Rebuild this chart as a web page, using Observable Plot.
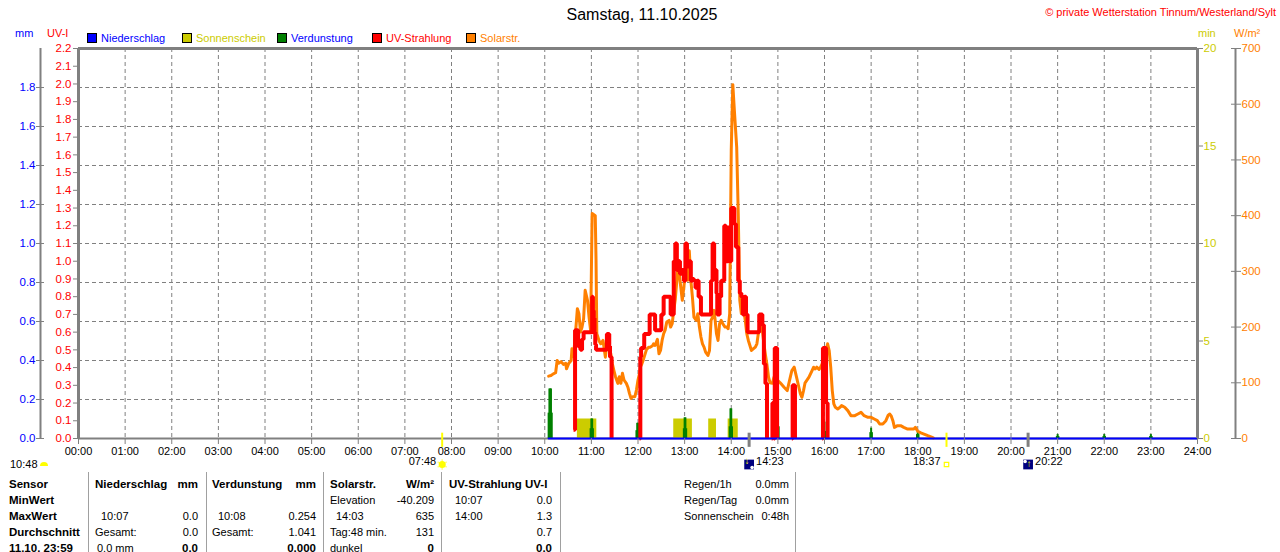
<!DOCTYPE html>
<html><head><meta charset="utf-8">
<script src="https://cdn.jsdelivr.net/npm/d3@7"></script>
<script src="https://cdn.jsdelivr.net/npm/@observablehq/plot@0.6"></script>
<style>
html,body{margin:0;padding:0;background:#fff;}
#wrap{position:relative;width:1280px;height:552px;overflow:hidden;font-family:"Liberation Sans",Arial,sans-serif;font-size:11px;color:#000;}
#wrap svg{position:absolute;left:0;top:0;}
.t{position:absolute;white-space:nowrap;line-height:12px;height:12px;}
.b{font-weight:bold;font-size:11.5px;}
.sq{position:absolute;width:8px;height:8px;border:1px solid #000;}
.sep{position:absolute;width:1px;background:#a0a0a0;top:472px;height:80px;}
</style></head><body><div id="wrap"></div>
<script>
// ---------- data ----------
const hourTicks = [0,1,2,3,4,5,6,7,8,9,10,11,12,13,14,15,16,17,18,19,20,21,22,23,24];
const hourLabels = ["00:00","01:00","02:00","03:00","04:00","05:00","06:00","07:00","08:00","09:00","10:00","11:00","12:00","13:00","14:00","15:00","16:00","17:00","18:00","19:00","20:00","21:00","22:00","23:00","24:00"];
const uvTicks = [0,0.1,0.2,0.3,0.4,0.5,0.6,0.7,0.8,0.9,1.0,1.1,1.2,1.3,1.4,1.5,1.6,1.7,1.8,1.9,2.0,2.1,2.2];
const uvTickLabels = ["0.0","0.1","0.2","0.3","0.4","0.5","0.6","0.7","0.8","0.9","1.0","1.1","1.2","1.3","1.4","1.5","1.6","1.7","1.8","1.9","2.0","2.1","2.2"];
const mmTicks = [0,0.2,0.4,0.6,0.8,1.0,1.2,1.4,1.6,1.8];
const mmTickLabels = ["0.0","0.2","0.4","0.6","0.8","1.0","1.2","1.4","1.6","1.8"];
const mmMax = 2.0;
const minTicks = [0,5,10,15,20];
const minTickLabels = ["0","5","10","15","20"];
const minMax = 20;
const wTicks = [0,100,200,300,400,500,600,700];
const wTickLabels = ["0","100","200","300","400","500","600","700"];
const wMax = 700;
const uvMax = 2.2;

const solarTime = ["10:05","10:08","10:11","10:14","10:16","10:18","10:21","10:24","10:27","10:28","10:31","10:34","10:35","10:37","10:40","10:42","10:44","10:46","10:48","10:50","10:52","10:55","10:57","10:59","11:01","11:05","11:06","11:07","11:10","11:12","11:15","11:18","11:20","11:22","11:25","11:27","11:29","11:31","11:34","11:36","11:38","11:40","11:42","11:45","11:47","11:49","11:51","11:53","11:56","11:58","12:00","12:02","12:03","12:05","12:07","12:11","12:14","12:16","12:19","12:20","12:22","12:25","12:27","12:29","12:31","12:33","12:35","12:37","12:40","12:42","12:44","12:46","12:48","12:50","12:52","12:54","12:57","12:59","13:01","13:04","13:06","13:08","13:10","13:12","13:15","13:17","13:19","13:21","13:23","13:25","13:27","13:30","13:32","13:34","13:36","13:38","13:41","13:43","13:45","13:47","13:49","13:52","13:54","13:56","13:58","14:00","14:02","14:04","14:07","14:09","14:11","14:13","14:15","14:18","14:20","14:22","14:26","14:31","14:33","14:35","14:38","14:40","14:42","14:44","14:46","14:48","14:50","14:53","14:55","14:58","15:00","15:03","15:08","15:12","15:16","15:18","15:21","15:24","15:27","15:29","15:31","15:33","15:35","15:37","15:40","15:42","15:44","15:46","15:48","15:50","15:53","15:55","15:57","15:59","16:01","16:03","16:04","16:06","16:08","16:10","16:12","16:14","16:17","16:20","16:22","16:26","16:30","16:34","16:39","16:43","16:47","16:51","16:56","17:00","17:04","17:08","17:11","17:15","17:19","17:22","17:24","17:26","17:28","17:30","17:34","17:38","17:42","17:47","17:51","17:55","17:57","18:00","18:04","18:08","18:13","18:17","18:20"];
const solarValue = [112,113,116,118,140,135,138,133,135,125,135,140,161,147,197,233,224,191,200,215,266,248,218,194,404,400,320,188,175,170,176,146,170,163,152,134,122,111,99,111,99,117,105,99,92,81,72,75,75,87,105,117,128,134,142,160,164,164,167,170,167,178,152,158,176,188,195,209,212,200,206,230,250,284,320,284,248,272,296,284,337,284,254,218,212,224,200,182,170,164,155,149,158,212,218,230,188,176,206,212,206,200,200,197,224,517,635,589,523,404,248,224,240,212,188,176,158,164,170,190,204,194,170,150,132,110,100,99,110,108,104,100,92,86,110,122,128,110,92,80,74,86,100,104,110,116,122,128,125,128,124,128,134,146,122,164,170,158,128,86,62,56,53,56,59,56,50,41,41,44,47,41,38,38,35,32,26,26,32,42,44,40,32,20,23,23,20,17,17,17,20,13,10,8,5,3,1];

const uvTime = ["10:37","10:39","10:41","10:42","10:43","10:45","10:46","10:48","10:50","11:01","11:02","11:03","11:04","11:05","11:06","11:20","11:23","11:24","11:26","11:27","12:02","12:03","12:04","12:08","12:15","12:22","12:30","12:33","12:42","12:46","12:48","12:50","12:52","12:54","12:56","12:59","13:01","13:03","13:05","13:08","13:10","13:12","13:14","13:16","13:18","13:21","13:34","13:36","13:38","13:41","13:42","13:45","13:47","13:51","13:53","13:56","13:58","14:00","14:04","14:06","14:09","14:11","14:13","14:15","14:17","14:19","14:21","14:36","14:40","14:42","14:44","14:46","14:47","14:52","14:53","14:55","14:56","14:59","15:00","15:18","15:19","15:22","15:23","15:57","15:58","16:02","16:04","16:05"];
const uvValue = [0.05,0.61,0.55,0.61,0.52,0.55,0.50,0.56,0.60,0.80,0.72,0.68,0.60,0.53,0.50,0.59,0.52,0.46,0,null,0,0.46,0.51,0.59,0.70,0.61,0.70,0.80,0.70,1.00,1.10,0.95,1.00,0.93,0.95,0.89,1.10,0.97,1.00,0.89,0.90,0.89,0.85,0.89,0.80,0.70,0.89,1.10,0.95,0.82,0.70,0.80,0.89,1.20,1.00,1.19,1.00,1.30,1.21,1.08,0.89,0.82,0.80,0.70,0.80,0.70,0.60,0.70,0.64,0.42,0.31,0,null,0,0.20,0,0.51,0,null,0,0.30,0,null,0,0.51,0.20,0,null];

const evapTime = ["10:05","10:06","10:07","10:08","10:09","10:59","11:00","11:01","11:02","11:58","11:59","12:00","12:01","12:59","13:00","13:01","13:02","13:58","13:59","14:00","14:01","14:58","14:59","15:00","15:01","15:58","15:59","16:00","16:01","16:59","17:00","17:01","17:59","18:00","18:01","20:59","21:00","21:01","21:59","22:00","22:01","22:59","23:00","23:01"];
const evapValue = [0.13,0.254,0.254,0.254,0.13,0.05,0.10,0.10,0.05,0.04,0.078,0.078,0.04,0.05,0.106,0.106,0.05,0.06,0.152,0.152,0.06,0.06,0.13,0.13,0.06,0.036,0.084,0.084,0.036,0.03,0.053,0.03,0.02,0.032,0.02,0.01,0.02,0.01,0.01,0.02,0.01,0.01,0.02,0.01];

const sunStart = ["10:42","12:46","13:31","13:56"];
const sunEnd = ["11:07","13:10","13:41","14:09"];
const sunValue = [1,1,1,1];

const rainTime = ["10:05","11:00","12:00","13:00","14:00","15:00","16:00","17:00","18:00","19:00","20:00","21:00","22:00","23:00","24:00"];
const rainValue = [0,0,0,0,0,0,0,0,0,0,0,0,0,0,0];

const sunrise = "07:48", sunset = "18:37", moonset = "14:23", moonrise = "20:22", dayLength = "10:48";

const tableRowLabels = ["Sensor","MinWert","MaxWert","Durchschnitt","11.10. 23:59"];
const rainLabels = ["Niederschlag","","10:07","Gesamt:","0.0 mm"];
const rainVals = ["mm","","0.0","0.0","0.0"];
const evapLabels = ["Verdunstung","","10:08","Gesamt:",""];
const evapVals = ["mm","","0.254","1.041","0.000"];
const solarLabels = ["Solarstr.","Elevation","14:03","Tag:48 min.","dunkel"];
const solarVals = ["W/m²","-40.209","635","131","0"];
const uvLabels = ["UV-Strahlung UV-I","10:07","14:00","",""];
const uvVals = ["","0.0","1.3","0.7","0.0"];
const sumLabels = ["Regen/1h","Regen/Tag","Sonnenschein"];
const sumVals = ["0.0mm","0.0mm","0:48h"];

const legendNames = ["Niederschlag","Sonnenschein","Verdunstung","UV-Strahlung","Solarstr."];

// ---------- helpers ----------
const C = {grid:"#808080", blue:"#0000ff", red:"#ff0000", orange:"#ff8000", green:"#008000", olive:"#cccc00", yellow:"#ffff00"};
const toH = s => { const [h,m] = s.split(":").map(Number); return h + m/60; };
const kMM = uvMax/mmMax, kW = uvMax/wMax, kMin = uvMax/minMax;

const solar = solarTime.map((t,i)=>({x:toH(t), y:solarValue[i]*kW}));
const uv = uvTime.map((t,i)=>({x:toH(t), y:uvValue[i]==null?NaN:uvValue[i]}));
const evap = evapTime.map((t,i)=>({x:toH(t), y:evapValue[i]*kMM}));
const sun = sunStart.map((t,i)=>({x1:toH(t), x2:toH(sunEnd[i]), y:sunValue[i]*kMin}));
const rain = rainTime.map((t,i)=>({x:toH(t), y:rainValue[i]*kMM}));

const uvLab = new Map(uvTicks.map((d,i)=>[d,uvTickLabels[i]]));
const mmS = mmTicks.map(d=>d*kMM); const mmLab = new Map(mmS.map((d,i)=>[d,mmTickLabels[i]]));
const minS = minTicks.map(d=>d*kMin); const minLab = new Map(minS.map((d,i)=>[d,minTickLabels[i]]));
const wS = wTicks.map(d=>d*kW); const wLab = new Map(wS.map((d,i)=>[d,wTickLabels[i]]));

const chart = Plot.plot({
  width: 1280, height: 472,
  marginLeft: 78, marginRight: 83, marginTop: 48, marginBottom: 34,
  x: {domain:[0,24], axis:null},
  y: {domain:[0,uvMax], axis:null},
  style: {fontFamily:"Liberation Sans, Arial, sans-serif", fontSize:"11px", overflow:"visible", background:"#fff"},
  marks: [
    Plot.ruleX(hourTicks.filter(h=>h>0&&h<24), {stroke:C.grid, strokeDasharray:"4,3", strokeWidth:1}),
    Plot.ruleY(mmS.filter(d=>d>0), {stroke:C.grid, strokeDasharray:"4,3", strokeWidth:1}),
    Plot.ruleY([0], {stroke:C.grid, strokeWidth:2}),
    Plot.rectY(sun, {x1:"x1", x2:"x2", y1:0, y2:"y", fill:C.olive}),
    Plot.ruleX(evap, {x:"x", y1:0, y2:"y", stroke:C.green, strokeWidth:2}),
    Plot.line(solar, {x:"x", y:"y", stroke:C.orange, strokeWidth:3}),
    Plot.line(uv, {x:"x", y:"y", stroke:C.red, strokeWidth:4, curve:"step-after", strokeLinejoin:"miter", strokeLinecap:"butt"}),
    Plot.line(rain, {x:"x", y:"y", stroke:C.blue, strokeWidth:2}),
    // frame
    Plot.ruleY([uvMax], {stroke:C.grid, strokeWidth:3}),
    Plot.ruleX([0,24], {stroke:C.grid, strokeWidth:3}),
    // axes
    Plot.axisY(uvTicks, {anchor:"left", tickSize:5, tickPadding:2, stroke:C.grid, fill:C.red, label:null, tickFormat:d=>uvLab.get(d), fontSize:11.5}),
    Plot.ruleX([0], {dx:-38, stroke:C.grid, strokeWidth:2}),
    Plot.axisY(mmS, {anchor:"left", dx:-34, tickSize:8, tickPadding:1, stroke:C.grid, fill:C.blue, label:null, tickFormat:d=>mmLab.get(d), fontSize:11.5}),
    Plot.axisY(minS, {anchor:"right", tickSize:5, tickPadding:1, stroke:C.grid, fill:C.olive, label:null, tickFormat:d=>minLab.get(d), fontSize:11.5}),
    Plot.ruleX([24], {dx:38, stroke:C.grid, strokeWidth:2}),
    Plot.axisY(wS, {anchor:"right", dx:33, tickSize:10, tickPadding:1, stroke:C.grid, fill:C.orange, label:null, tickFormat:d=>wLab.get(d), fontSize:11.5}),
    Plot.axisX(hourTicks, {anchor:"bottom", tickSize:6, tickPadding:3, stroke:C.grid, fill:"#000", label:null, tickFormat:h=>hourLabels[h], fontSize:11}),
    // astronomical markers
    Plot.ruleX([sunrise, sunset], {x:toH, y1:-0.05, y2:0.03, stroke:C.yellow, strokeWidth:2}),
    Plot.ruleX([moonset, moonrise], {x:toH, y1:-0.05, y2:0.03, stroke:C.grid, strokeWidth:3}),
    Plot.text([sunrise, sunset], {x:toH, text:d=>d, frameAnchor:"bottom", dy:26, dx:-6, textAnchor:"end", fill:"#000", fontSize:11}),
    Plot.text([moonset, moonrise], {x:toH, text:d=>d, frameAnchor:"bottom", dy:26, dx:7, textAnchor:"start", fill:"#000", fontSize:11}),
    Plot.dot([sunrise], {x:toH, frameAnchor:"bottom", dy:26, r:5, symbol:"asterisk", stroke:"#ffff80", strokeWidth:1.5}),
    Plot.dot([sunrise], {x:toH, frameAnchor:"bottom", dy:26, r:3.5, fill:C.yellow}),
    Plot.dot([sunset], {x:toH, frameAnchor:"bottom", dy:26, r:2.5, symbol:"square", stroke:C.yellow, fill:"#fff", strokeWidth:1.2}),
    Plot.dot([moonset, moonrise], {x:toH, frameAnchor:"bottom", dy:26, r:5.5, symbol:"square", fill:"#000080"}),
    Plot.dot([moonset], {x:toH, frameAnchor:"bottom", dy:29, dx:3, r:1.8, fill:"#fff"}),
    Plot.dot([moonrise], {x:toH, frameAnchor:"bottom", dy:23, dx:-3, r:1.8, fill:"#fff"}),
    Plot.text([moonset], {x:toH, text:()=>"↓", frameAnchor:"bottom", dy:25, dx:-2, fill:C.yellow, fontSize:10, fontWeight:"bold"}),
    Plot.text([moonrise], {x:toH, text:()=>"↑", frameAnchor:"bottom", dy:28, dx:1, fill:C.yellow, fontSize:10, fontWeight:"bold"})
  ]
});

const wrap = document.getElementById("wrap");
wrap.appendChild(chart);

function txt(x, y, s, {align="left", color="#000", bold=false, size=null} = {}) {
  if (s === "" || s == null) return;
  const d = document.createElement("div");
  d.className = "t" + (bold ? " b" : "");
  d.textContent = s;
  d.style.top = (y - 6) + "px";
  if (align === "right") d.style.right = (1280 - x) + "px";
  else if (align === "center") { d.style.left = (x - 300) + "px"; d.style.width = "600px"; d.style.textAlign = "center"; }
  else d.style.left = x + "px";
  d.style.color = color;
  if (size) { d.style.fontSize = size + "px"; d.style.lineHeight = (size+2) + "px"; d.style.height = (size+2)+"px"; d.style.top = (y - (size+2)/2) + "px"; }
  wrap.appendChild(d);
}
function square(x, y, fill) {
  const d = document.createElement("div"); d.className = "sq";
  d.style.left = x + "px"; d.style.top = y + "px"; d.style.background = fill; wrap.appendChild(d);
}
function sep(x) { const d = document.createElement("div"); d.className = "sep"; d.style.left = x + "px"; wrap.appendChild(d); }

// title & header
txt(642, 15, "Samstag, 11.10.2025", {align:"center", size:16});
txt(1276, 12, "© private Wetterstation Tinnum/Westerland/Sylt", {align:"right", color:C.red});
txt(15, 33, "mm", {color:C.blue});
txt(47, 33, "UV-I", {color:C.red});
txt(1198, 33, "min", {color:C.olive});
txt(1234, 33, "W/m²", {color:C.orange});
const legColors = [C.blue, C.olive, C.green, C.red, C.orange];
const legText = [C.blue, C.olive, C.blue, C.red, C.orange];
const legX = [87, 182, 277, 372, 466];
legendNames.forEach((n,i)=>{ square(legX[i], 33, legColors[i]); txt(legX[i]+14, 38, n, {color:legText[i]}); });

// day length
txt(10, 464, dayLength);
const hs = document.createElement("div");
hs.style.cssText = "position:absolute;left:40px;top:462px;width:8px;height:4px;background:#ffff00;border-radius:4px 4px 0 0;";
wrap.appendChild(hs);

// table
const rowsY = [484, 500, 516, 532, 548];
[88, 206, 323, 441, 560, 795].forEach(sep);
const isTime = s => /^\d\d:\d\d$/.test(s);
tableRowLabels.forEach((s,i)=>txt(9, rowsY[i], s, {bold:true}));
function col(labels, vals, lx, rx) {
  labels.forEach((s,i)=>txt(lx + (i>0 && isTime(s) ? 6 : 0) + (s==="0.0 mm"?2:0), rowsY[i], s, {bold:i===0}));
  vals.forEach((s,i)=>txt(rx, rowsY[i], s, {align:"right", bold:i===0||i===4}));
}
col(rainLabels, rainVals, 95, 198);
col(evapLabels, evapVals, 212, 316);
col(solarLabels, solarVals, 330, 434);
col(uvLabels, uvVals, 449, 552);
sumLabels.forEach((s,i)=>{ txt(684, rowsY[i], s); txt(789, rowsY[i], sumVals[i], {align:"right"}); });
</script></body></html>
